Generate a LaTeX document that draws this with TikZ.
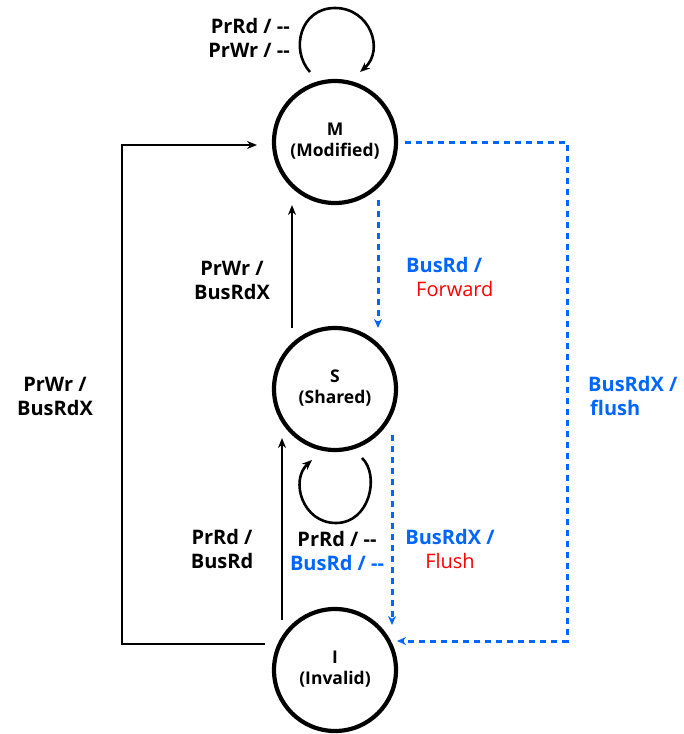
\documentclass[tikz,border=0pt]{standalone}
\usepackage{fontspec}
\setmainfont{Open Sans}
\usetikzlibrary{arrows.meta,calc}
\definecolor{busblue}{RGB}{0,102,255}
\definecolor{fwdred}{RGB}{255,0,0}
\newcommand{\statetext}[2]{\raisebox{6pt}{\begin{tabular}{@{}c@{}}#1\\#2\end{tabular}}}
\begin{document}
\begin{tikzpicture}[x=1pt,y=-1pt,
  state/.style={circle,draw,line width=4.2pt,minimum size=122pt,inner sep=0pt,align=center,
    font=\bfseries\fontsize{17.5}{21}\selectfont},
  arr/.style={line width=2.6pt,-{Stealth[length=10pt,width=8pt]}},
  barr/.style={busblue,line width=3pt,dash pattern=on 6pt off 5pt,-{Stealth[length=9pt,width=8pt]}},
  lbl/.style={font=\bfseries\fontsize{20}{24}\selectfont,inner sep=0pt}
]
\useasboundingbox (0,0) rectangle (684,734);

\node[state] (M) at (335,142) {\statetext{M}{(Modified)}};
\node[state] (S) at (335,389) {\statetext{S}{(Shared)}};
\node[state] (I) at (335,670) {\statetext{I}{(Invalid)}};

% M self loop
\draw[arr] ([shift={(-25,-70)}]M.center) .. controls +(-20,-22) and +(-35,0) .. ([shift={(0,-134)}]M.center)
  .. controls +(35,0) and +(25,-22) .. ([shift={(25,-70)}]M.center);
% S self loop
\draw[arr] ([shift={(27,69)}]S.center) .. controls +(18,17) and +(34,0) .. ([shift={(1,134)}]S.center)
  .. controls +(-34,0) and +(-22,20) .. ([shift={(-23,71)}]S.center);

% S -> M
\draw[arr] ([shift={(-43,-61)}]S.center) -- ([shift={(-43,63)}]M.center);
% I -> S
\draw[arr] ([shift={(-53,-50)}]I.center) -- ([shift={(-53,49)}]S.center);
% I -> M (left loop)
\draw[arr] ([shift={(-70,-26)}]I.center) -| ([shift={(-213,3)}]M.center) -- ([shift={(-78,3)}]M.center);

% blue dashed
\draw[barr] ([shift={(43,58)}]M.center) -- ([shift={(43,-61)}]S.center);
\draw[barr] ([shift={(57,46)}]S.center) -- ([shift={(57,-45)}]I.center);
\draw[barr] ([shift={(70,0)}]M.center) -| ([shift={(232,-29)}]I.center) -- ([shift={(62,-29)}]I.center);

% labels
\node[lbl,anchor=east,align=right] (lM) at (290,38) {PrRd / -{}-\\PrWr / -{}-};
\node[lbl,align=center] (lSM) at (232,280) {PrWr /\\BusRdX};
\node[lbl,anchor=west,align=left] (lMS) at (406,277) {\textcolor{busblue}{BusRd /}\\\hspace*{10pt}\textcolor{fwdred}{\mdseries Forward}};
\node[lbl,align=center] (lIM) at (55,396) {PrWr /\\BusRdX};
\node[lbl,anchor=west,align=left,text=busblue] (lMI) at (588,396) {BusRdX /\\\hspace*{2pt}flush};
\node[lbl,align=center] (lIS) at (222,549) {PrRd /\\BusRd};
\node[lbl,align=center] (lSS) at (337,551) {PrRd / -{}-\\\textcolor{busblue}{BusRd / -{}-}};
\node[lbl,align=center] (lSI) at (450,549) {\textcolor{busblue}{BusRdX /}\\\textcolor{fwdred}{\mdseries Flush}};
\end{tikzpicture}
\end{document}
